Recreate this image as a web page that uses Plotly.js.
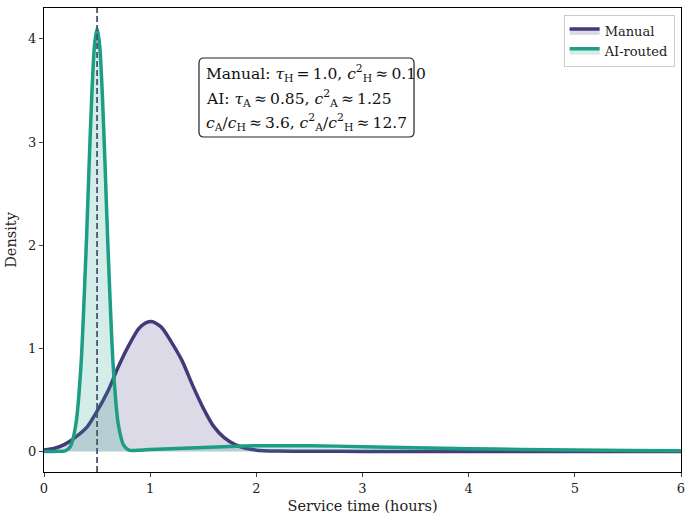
<!DOCTYPE html>
<html>
<head>
<meta charset="utf-8">
<script src="https://cdn.plot.ly/plotly-3.0.1.min.js"></script>
<style>html,body{margin:0;padding:0;background:#fff;}#chart{width:691px;height:522px;}</style>
</head>
<body>
<div id="chart"></div>
<script>
// Manual service-time density
const manualX = [0, 0.1, 0.2, 0.3, 0.4, 0.5, 0.6, 0.7, 0.8, 0.9, 1.0, 1.1, 1.2, 1.3, 1.4, 1.5, 1.6, 1.7, 1.8, 1.9, 2.0, 2.2, 2.5, 3.0, 4.0, 5.0, 6.0];
const manualY = [0.012, 0.03, 0.07, 0.14, 0.23, 0.39, 0.58, 0.82, 1.03, 1.20, 1.26, 1.21, 1.06, 0.88, 0.64, 0.42, 0.24, 0.13, 0.065, 0.03, 0.012, 0.003, 0.001, 0, 0, 0, 0];
// AI-routed service-time density
const aiX = [0, 0.1, 0.2, 0.25, 0.3, 0.35, 0.4, 0.425, 0.45, 0.475, 0.5, 0.525, 0.55, 0.575, 0.6, 0.65, 0.7, 0.75, 0.8, 0.9, 1.0, 1.25, 1.5, 1.75, 2.0, 2.5, 3.0, 3.5, 4.0, 4.5, 5.0, 5.5, 6.0];
const aiY = [0, 0, 0.005, 0.05, 0.26, 0.86, 2.05, 2.78, 3.45, 3.93, 4.10, 3.93, 3.45, 2.78, 2.05, 0.86, 0.26, 0.06, 0.012, 0.012, 0.018, 0.028, 0.038, 0.048, 0.054, 0.055, 0.046, 0.036, 0.026, 0.019, 0.013, 0.008, 0.005];
const refX = 0.5;
const ts = "\u2009"; // thin space
const noteLines = [
  "Manual: <i>τ</i><sub>H</sub>" + ts + "=" + ts + "1.0, <i>c</i><sup>2</sup><sub>H</sub>" + ts + "≈" + ts + "0.10",
  "AI: <i>τ</i><sub>A</sub>" + ts + "≈" + ts + "0.85, <i>c</i><sup>2</sup><sub>A</sub>" + ts + "≈" + ts + "1.25",
  "<i>c</i><sub>A</sub>/<i>c</i><sub>H</sub>" + ts + "≈" + ts + "3.6, <i>c</i><sup>2</sup><sub>A</sub>/<i>c</i><sup>2</sup><sub>H</sub>" + ts + "≈" + ts + "12.7"
];

const purple = "#46397a";
const teal = "#1b9e84";
const font = "DejaVu Serif, serif";

const traces = [
  {x: manualX, y: manualY, type: "scatter", mode: "lines", name: "Manual",
   line: {color: purple, width: 3.5, shape: "spline", smoothing: 0.8},
   fill: "tozeroy", fillcolor: "rgba(70,57,122,0.19)"},
  {x: aiX, y: aiY, type: "scatter", mode: "lines", name: "AI-routed",
   line: {color: teal, width: 3.5, shape: "spline", smoothing: 0.6},
   fill: "tozeroy", fillcolor: "rgba(27,158,132,0.19)"}
];

// rounded note box in paper coordinates
const bx0 = 0.2433, bx1 = 0.5809, by0 = 0.7220, by1 = 0.8922, rx = 0.0079, ry = 0.0108;
const boxPath = `M ${bx0+rx},${by1} L ${bx1-rx},${by1} Q ${bx1},${by1} ${bx1},${by1-ry} L ${bx1},${by0+ry} Q ${bx1},${by0} ${bx1-rx},${by0} L ${bx0+rx},${by0} Q ${bx0},${by0} ${bx0},${by0+ry} L ${bx0},${by1-ry} Q ${bx0},${by1} ${bx0+rx},${by1} Z`;

const lineYs = [0.858, 0.806, 0.754];
const noteAnns = noteLines.map((t, i) => ({
  xref: "paper", yref: "paper", x: 0.2512, y: lineYs[i], xanchor: "left", yanchor: "middle",
  text: t, align: "left", showarrow: false,
  font: {family: font, size: 15.5, color: "#111"}
}));

const layout = {
  width: 691, height: 522,
  margin: {l: 44, r: 10, t: 8, b: 50},
  paper_bgcolor: "#fff", plot_bgcolor: "#fff",
  font: {family: font, size: 13, color: "#222"},
  showlegend: true,
  legend: {x: 0.99, y: 0.985, xanchor: "right", yanchor: "top",
           bgcolor: "rgba(255,255,255,0.9)", bordercolor: "#cccccc", borderwidth: 1,
           font: {family: font, size: 13, color: "#222"}},
  xaxis: {range: [0, 6], tickvals: [0,1,2,3,4,5,6], ticks: "outside", ticklen: 4,
          showgrid: false, zeroline: false, showline: true, mirror: true,
          linecolor: "#000", linewidth: 1, tickfont: {family: font, size: 13},
          title: {text: "Service time (hours)", font: {family: font, size: 14.5}, standoff: 6}},
  yaxis: {range: [-0.2, 4.3], tickvals: [0,1,2,3,4], ticks: "outside", ticklen: 4,
          showgrid: false, zeroline: false, showline: true, mirror: true,
          linecolor: "#000", linewidth: 1, tickfont: {family: font, size: 13},
          title: {text: "Density", font: {family: font, size: 14.5}, standoff: 8}},
  shapes: [
    {type: "line", xref: "x", yref: "paper", x0: refX, x1: refX, y0: 0, y1: 1,
     line: {color: "#4a5570", width: 1.8, dash: "6px,3px"}},
    {type: "path", xref: "paper", yref: "paper", path: boxPath,
     fillcolor: "rgba(255,255,255,0.95)", line: {color: "#222", width: 1.2}}
  ],
  annotations: noteAnns
};

Plotly.newPlot("chart", traces, layout, {displayModeBar: false, staticPlot: true});
</script>
</body>
</html>
